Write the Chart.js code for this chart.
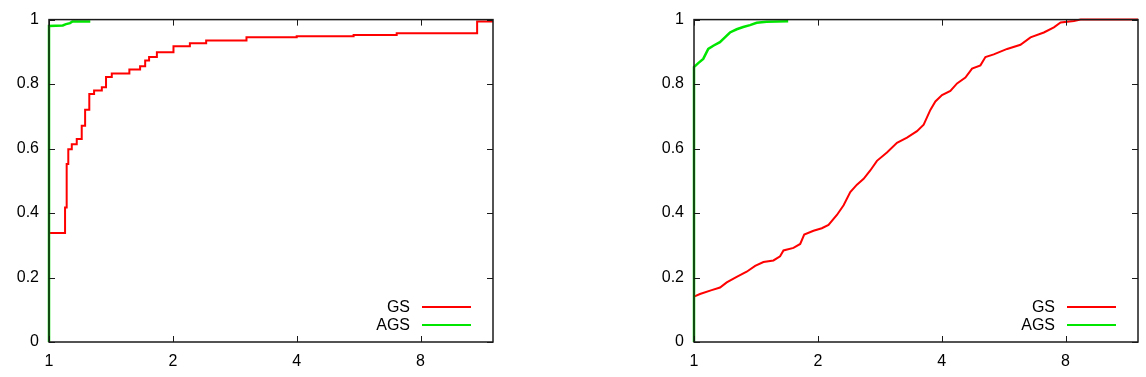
<!DOCTYPE html>
<html>
<head>
<meta charset="utf-8">
<script src="https://cdn.jsdelivr.net/npm/chart.js@4/dist/chart.umd.min.js"></script>
<style>
  html, body { margin: 0; padding: 0; background: #fff; }
  #wrap { position: relative; width: 1146px; height: 377px; }
  canvas { position: absolute; top: 0; }
  #c1 { left: 0; }
  #c2 { left: 645px; }
</style>
</head>
<body>
<div id="wrap">
  <canvas id="c1" width="500" height="377"></canvas>
  <canvas id="c2" width="500" height="377"></canvas>
</div>
<script>
// ---- tick labels ----
const xTickValues = [1, 2, 4, 8];
const yTickValues = [0, 0.2, 0.4, 0.6, 0.8, 1];
const seriesLabels = ['GS', 'AGS'];

// ---- left panel (step CDFs: x = jump position, y = new value) ----
const leftGsX = [1, 1, 1.094, 1.104, 1.114, 1.136, 1.168, 1.201, 1.224, 1.253, 1.287, 1.344, 1.376, 1.421, 1.568, 1.665, 1.713, 1.751, 1.829, 2.007, 2.20, 2.41, 3.02, 4.0, 5.5, 7.0, 10.98, 12];
const leftGsY = [0, 0.338, 0.417, 0.552, 0.598, 0.613, 0.63, 0.671, 0.72, 0.769, 0.78, 0.79, 0.822, 0.833, 0.845, 0.855, 0.873, 0.884, 0.899, 0.917, 0.927, 0.935, 0.945, 0.948, 0.952, 0.958, 0.994, 0.994];
const leftAgsX = [1, 1, 1.08, 1.10, 1.125, 1.14, 1.26];
const leftAgsY = [0, 0.98, 0.982, 0.986, 0.989, 0.994, 0.994];

// ---- right panel ----
const rightGsX = [1, 1, 1.034, 1.104, 1.157, 1.201, 1.270, 1.343, 1.408, 1.475, 1.560, 1.619, 1.650, 1.745, 1.812, 1.853, 1.952, 2.045, 2.123, 2.225, 2.310, 2.398, 2.489, 2.584, 2.682, 2.784, 2.944, 3.114, 3.294, 3.483, 3.616, 3.754, 3.861, 4.007, 4.199, 4.359, 4.567, 4.741, 4.968, 5.109, 5.353, 5.769, 6.216, 6.575, 7.085, 7.494, 7.781, 8.383, 8.701, 12];
const rightGsY = [0, 0.141, 0.149, 0.161, 0.169, 0.185, 0.202, 0.218, 0.236, 0.248, 0.253, 0.266, 0.284, 0.292, 0.304, 0.333, 0.345, 0.353, 0.363, 0.394, 0.424, 0.465, 0.488, 0.506, 0.532, 0.562, 0.588, 0.618, 0.634, 0.654, 0.674, 0.720, 0.746, 0.766, 0.779, 0.802, 0.820, 0.848, 0.858, 0.884, 0.892, 0.909, 0.922, 0.945, 0.960, 0.976, 0.991, 0.996, 1.0, 1.0];
const rightAgsX = [1, 1, 1.024, 1.053, 1.083, 1.114, 1.156, 1.189, 1.223, 1.270, 1.317, 1.368, 1.420, 1.501, 1.694];
const rightAgsY = [0, 0.853, 0.865, 0.878, 0.909, 0.919, 0.930, 0.945, 0.960, 0.970, 0.977, 0.983, 0.990, 0.993, 0.995];

const RED = '#ff0000';
const GREEN = '#00e600';
const FONT = { family: '"Liberation Sans", Arial, Helvetica, sans-serif', size: 16 };

function pts(xs, ys) { return xs.map((x, i) => ({ x: x, y: ys[i] })); }

const framePlugin = {
  id: 'gnuplotFrame',
  afterDatasetsDraw(chart) {
    const { ctx, chartArea: { left, right, top, bottom }, scales: { x, y } } = chart;
    const tl = 6;
    ctx.save();
    ctx.strokeStyle = '#1a1a1a';
    ctx.lineWidth = 1;
    ctx.beginPath();
    for (const v of xTickValues) {
      const px = Math.round(x.getPixelForValue(v)) + 0.5;
      ctx.moveTo(px, bottom); ctx.lineTo(px, bottom - tl);
      ctx.moveTo(px, top); ctx.lineTo(px, top + tl);
    }
    for (const v of yTickValues) {
      const py = Math.round(y.getPixelForValue(v)) + 0.5;
      ctx.moveTo(left, py); ctx.lineTo(left + tl, py);
      ctx.moveTo(right, py); ctx.lineTo(right - tl, py);
    }
    ctx.stroke();
    ctx.lineWidth = 1.5;
    ctx.strokeRect(left, top, right - left, bottom - top);

    // gnuplot-style key, bottom right
    ctx.font = FONT.size + 'px ' + FONT.family;
    ctx.textAlign = 'right';
    ctx.textBaseline = 'middle';
    chart.data.datasets.forEach((ds, i) => {
      const ly = bottom - 35 + i * 18;
      ctx.fillStyle = '#000';
      ctx.fillText(ds.label, right - 83, ly + 1);
      ctx.strokeStyle = ds.borderColor;
      ctx.lineWidth = 2;
      ctx.beginPath();
      ctx.moveTo(right - 71, ly);
      ctx.lineTo(right - 22, ly);
      ctx.stroke();
    });
    ctx.restore();
  }
};

function makeChart(id, gs, ags, gsStepped) {
  new Chart(document.getElementById(id), {
    type: 'line',
    data: {
      datasets: [
        { label: seriesLabels[0], data: gs, order: 1, borderColor: RED, borderWidth: 2, stepped: gsStepped, clip: false, pointRadius: 0, fill: false, tension: 0 },
        { label: seriesLabels[1], data: ags, order: 0, borderColor: GREEN, borderWidth: 2.5, stepped: false, clip: false, pointRadius: 0, fill: false, tension: 0 }
      ]
    },
    options: {
      responsive: false,
      animation: false,
      events: [],
      layout: { padding: { top: 15, right: 7, left: 0, bottom: 0 } },
      plugins: { legend: { display: false }, tooltip: { enabled: false } },
      scales: {
        x: {
          type: 'logarithmic', min: 1, max: 12,
          afterBuildTicks(s) { s.ticks = xTickValues.map(v => ({ value: v })); },
          afterFit(s) { s.height = 35; },
          grid: { display: false, drawTicks: false },
          border: { display: false },
          ticks: { font: FONT, color: '#000', padding: 10, autoSkip: false, maxRotation: 0, callback: v => String(v) }
        },
        y: {
          type: 'linear', min: 0, max: 1,
          afterBuildTicks(s) { s.ticks = yTickValues.map(v => ({ value: v })); },
          afterFit(s) { s.width = 49; },
          grid: { display: false, drawTicks: false },
          border: { display: false },
          ticks: { font: FONT, color: '#000', padding: 10, autoSkip: false, callback: v => String(v) }
        }
      }
    },
    plugins: [framePlugin]
  });
}

makeChart('c1', pts(leftGsX, leftGsY), pts(leftAgsX, leftAgsY), true);
makeChart('c2', pts(rightGsX, rightGsY), pts(rightAgsX, rightAgsY), false);
</script>
</body>
</html>
